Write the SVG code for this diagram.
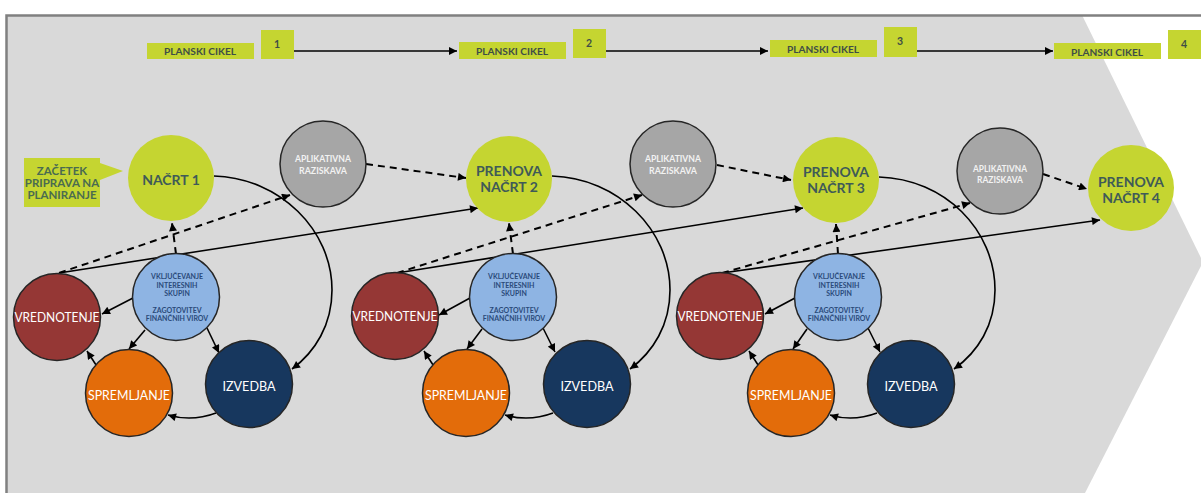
<svg xmlns="http://www.w3.org/2000/svg" width="1201" height="493" viewBox="0 0 1201 493">
<style>
.bg{fill:#d9d9d9}
.frame{stroke:#808080;stroke-width:2.5;fill:none}
.grn{fill:#c5d531}
.gry{fill:#a6a6a6;stroke:#262626;stroke-width:1.5}
.red{fill:#953735;stroke:#262626;stroke-width:1.5}
.blu{fill:#8eb4e3;stroke:#262626;stroke-width:1.5}
.org{fill:#e36c0a;stroke:#262626;stroke-width:1.5}
.nav{fill:#17375e;stroke:#262626;stroke-width:1.5}
.ln{stroke:#000;stroke-width:1.6;fill:none;marker-end:url(#ah)}
.ds{stroke:#000;stroke-width:2;fill:none;stroke-dasharray:7 5;marker-end:url(#ah)}
text{font-family:Lato,"Noto Sans",sans-serif;text-anchor:middle}
.pc{font-size:10px;font-weight:700;fill:#3f4d46}
.num{font-size:10.5px;font-weight:700;fill:#3f4d46}
.nt{font-size:14px;font-weight:700;fill:#3f5a58}
.zt{font-size:11.5px;font-weight:700;fill:#4a6b50}
.at{font-size:8.5px;font-weight:700;fill:#f2f2f2}
.wt{font-size:14px;font-weight:400;fill:#fff}
.bt{font-size:7px;font-weight:700;fill:#2a4a7a}
</style>
<defs>
<marker id="ah" viewBox="0 0 10 10" refX="10" refY="5" markerWidth="9" markerHeight="8" markerUnits="userSpaceOnUse" orient="auto"><path d="M0,0 L10,5 L0,10 z" fill="#000"/></marker>
</defs>
<rect width="1201" height="493" fill="#fff"/>
<polygon class="bg" points="6,15 1082,15 1203,262 1085,493 6,493"/>
<path class="frame" d="M6.5,493 V15.5 H1201"/>

<g id="connectors">
<line class="ln" x1="294" y1="51" x2="457" y2="51"/>
<line class="ln" x1="606" y1="51" x2="768" y2="51"/>
<line class="ln" x1="917" y1="51" x2="1053" y2="51"/>
<path class="ln" d="M214,176 C280,178 332,230 332,290 C332,325 315,352 292,369"/>
<path class="ln" d="M552,176 C618,178 670,230 670,290 C670,325 653,352 630,369"/>
<path class="ln" d="M879,177 C945,179 995,230 995,290 C995,325 978,352 954,369"/>
<path class="ln" d="M216,413 Q192,422 168,415"/>
<path class="ln" d="M553,413 Q529,422 505,415"/>
<path class="ln" d="M877,413 Q853,422 830,415"/>
<line class="ln" x1="98" y1="368" x2="87" y2="351"/>
<line class="ln" x1="435" y1="368" x2="424" y2="351"/>
<line class="ln" x1="760" y1="368" x2="749" y2="351"/>
<line class="ln" x1="133" y1="298" x2="102" y2="314"/>
<line class="ln" x1="470" y1="298" x2="439" y2="315"/>
<line class="ln" x1="795" y1="298" x2="765" y2="314"/>
<line class="ln" x1="145" y1="330" x2="129" y2="349"/>
<line class="ln" x1="482" y1="329" x2="467" y2="349"/>
<line class="ln" x1="807" y1="329" x2="793" y2="349"/>
<line class="ln" x1="207" y1="328" x2="219" y2="353"/>
<line class="ln" x1="543" y1="328" x2="555" y2="352"/>
<line class="ln" x1="868" y1="328" x2="880" y2="352"/>
<line class="ln" x1="59" y1="273" x2="478" y2="208"/>
<line class="ln" x1="397" y1="273" x2="803" y2="208"/>
<line class="ln" x1="722" y1="273" x2="1100" y2="220"/>
<line class="ds" x1="59" y1="273" x2="290" y2="195"/>
<line class="ds" x1="397" y1="273" x2="642" y2="195"/>
<line class="ds" x1="722" y1="273" x2="970" y2="203"/>
<line class="ds" x1="366" y1="164" x2="466" y2="178"/>
<line class="ds" x1="717" y1="165" x2="791" y2="180"/>
<line class="ds" x1="1043" y1="174" x2="1087" y2="189"/>
<line class="ds" x1="176" y1="254" x2="172" y2="223"/>
<line class="ds" x1="513" y1="254" x2="509" y2="223"/>
<line class="ds" x1="838" y1="254" x2="836" y2="224"/>
</g>

<g id="pc1"><rect class="grn" x="147" y="43" width="107" height="16"/><text class="pc" x="200" y="55" textLength="72" lengthAdjust="spacingAndGlyphs">PLANSKI CIKEL</text></g>
<g id="n1"><rect class="grn" x="261" y="30" width="33" height="29"/><text class="num" x="277" y="48">1</text></g>
<g id="pc2"><rect class="grn" x="459" y="42" width="107" height="17"/><text class="pc" x="512" y="55" textLength="72" lengthAdjust="spacingAndGlyphs">PLANSKI CIKEL</text></g>
<g id="n2"><rect class="grn" x="573" y="29" width="33" height="29"/><text class="num" x="589" y="47">2</text></g>
<g id="pc3"><rect class="grn" x="770" y="40" width="107" height="17"/><text class="pc" x="823" y="53" textLength="72" lengthAdjust="spacingAndGlyphs">PLANSKI CIKEL</text></g>
<g id="n3"><rect class="grn" x="884" y="27" width="33" height="30"/><text class="num" x="900" y="45">3</text></g>
<g id="pc4"><rect class="grn" x="1054" y="43" width="107" height="16"/><text class="pc" x="1107" y="56" textLength="72" lengthAdjust="spacingAndGlyphs">PLANSKI CIKEL</text></g>
<g id="n4"><rect class="grn" x="1168" y="30" width="33" height="29"/><text class="num" x="1184" y="48">4</text></g>

<g id="zacetek"><path class="grn" d="M24,158 H100 V163 L123,171 L100,180 V207 H24 Z"/>
<text class="zt" x="62" y="175">ZAČETEK</text><text class="zt" x="62" y="187">PRIPRAVA NA</text><text class="zt" x="62" y="199">PLANIRANJE</text></g>

<g id="nacrt1"><circle class="grn" cx="171" cy="178" r="43"/><text class="nt" x="171" y="185">NAČRT 1</text></g>
<g id="nacrt2"><circle class="grn" cx="509" cy="179" r="43"/><text class="nt" x="509" y="176">PRENOVA</text><text class="nt" x="509" y="192">NAČRT 2</text></g>
<g id="nacrt3"><circle class="grn" cx="836" cy="180" r="43"/><text class="nt" x="836" y="177">PRENOVA</text><text class="nt" x="836" y="193">NAČRT 3</text></g>
<g id="nacrt4"><circle class="grn" cx="1131" cy="188" r="43"/><text class="nt" x="1131" y="187">PRENOVA</text><text class="nt" x="1131" y="203">NAČRT 4</text></g>

<g id="aplik1"><circle class="gry" cx="323" cy="164" r="43"/><text class="at" x="323" y="162" textLength="56" lengthAdjust="spacingAndGlyphs">APLIKATIVNA</text><text class="at" x="323" y="174" textLength="48" lengthAdjust="spacingAndGlyphs">RAZISKAVA</text></g>
<g id="aplik2"><circle class="gry" cx="673" cy="164" r="43"/><text class="at" x="673" y="162" textLength="56" lengthAdjust="spacingAndGlyphs">APLIKATIVNA</text><text class="at" x="673" y="174" textLength="48" lengthAdjust="spacingAndGlyphs">RAZISKAVA</text></g>
<g id="aplik3"><circle class="gry" cx="1000" cy="171" r="43"/><text class="at" x="1000" y="172" textLength="54" lengthAdjust="spacingAndGlyphs">APLIKATIVNA</text><text class="at" x="1000" y="183" textLength="46" lengthAdjust="spacingAndGlyphs">RAZISKAVA</text></g>

<g id="vred1"><circle class="red" cx="57" cy="317" r="43.5"/><text class="wt" x="57" y="322" textLength="85" lengthAdjust="spacingAndGlyphs">VREDNOTENJE</text></g>
<g id="blue1"><circle class="blu" cx="176" cy="297" r="43.5"/><text class="bt" x="177" y="279">VKLJUČEVANJE</text><text class="bt" x="177" y="288">INTERESNIH</text><text class="bt" x="177" y="296">SKUPIN</text><text class="bt" x="177" y="313">ZAGOTOVITEV</text><text class="bt" x="177" y="321">FINANČNIH VIROV</text></g>
<g id="sprem1"><circle class="org" cx="129" cy="393" r="43.5"/><text class="wt" x="129" y="400" textLength="82" lengthAdjust="spacingAndGlyphs">SPREMLJANJE</text></g>
<g id="izv1"><circle class="nav" cx="249" cy="384" r="43.5"/><text class="wt" x="249" y="391" textLength="53" lengthAdjust="spacingAndGlyphs">IZVEDBA</text></g>

<g id="vred2"><circle class="red" cx="395" cy="316" r="43.5"/><text class="wt" x="395" y="321" textLength="85" lengthAdjust="spacingAndGlyphs">VREDNOTENJE</text></g>
<g id="blue2"><circle class="blu" cx="513" cy="297" r="43.5"/><text class="bt" x="514" y="279">VKLJUČEVANJE</text><text class="bt" x="514" y="288">INTERESNIH</text><text class="bt" x="514" y="296">SKUPIN</text><text class="bt" x="514" y="313">ZAGOTOVITEV</text><text class="bt" x="514" y="321">FINANČNIH VIROV</text></g>
<g id="sprem2"><circle class="org" cx="466" cy="393" r="43.5"/><text class="wt" x="466" y="400" textLength="82" lengthAdjust="spacingAndGlyphs">SPREMLJANJE</text></g>
<g id="izv2"><circle class="nav" cx="587" cy="384" r="43.5"/><text class="wt" x="587" y="391" textLength="53" lengthAdjust="spacingAndGlyphs">IZVEDBA</text></g>

<g id="vred3"><circle class="red" cx="720" cy="316" r="43.5"/><text class="wt" x="720" y="321" textLength="85" lengthAdjust="spacingAndGlyphs">VREDNOTENJE</text></g>
<g id="blue3"><circle class="blu" cx="838" cy="297" r="43.5"/><text class="bt" x="839" y="279">VKLJUČEVANJE</text><text class="bt" x="839" y="288">INTERESNIH</text><text class="bt" x="839" y="296">SKUPIN</text><text class="bt" x="839" y="313">ZAGOTOVITEV</text><text class="bt" x="839" y="321">FINANČNIH VIROV</text></g>
<g id="sprem3"><circle class="org" cx="791" cy="393" r="43.5"/><text class="wt" x="791" y="400" textLength="82" lengthAdjust="spacingAndGlyphs">SPREMLJANJE</text></g>
<g id="izv3"><circle class="nav" cx="911" cy="384" r="43.5"/><text class="wt" x="911" y="391" textLength="53" lengthAdjust="spacingAndGlyphs">IZVEDBA</text></g>
</svg>
